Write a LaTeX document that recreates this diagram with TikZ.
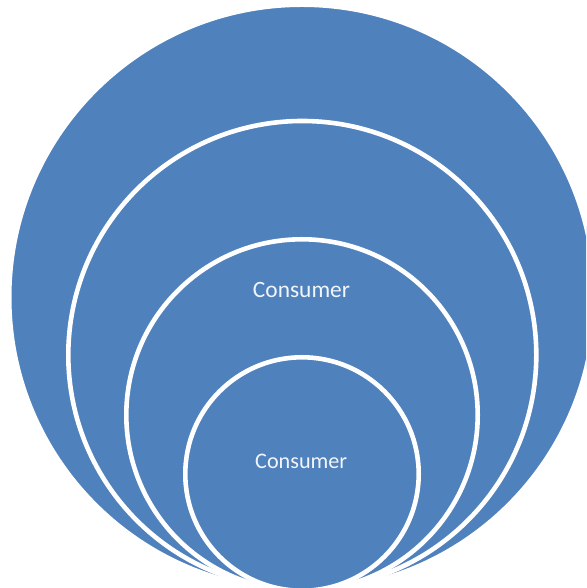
\documentclass[tikz,border=0pt]{standalone}
\usepackage{fontspec}
\setmainfont{Carlito}
\definecolor{ringblue}{HTML}{4F81BD}
\definecolor{ringtext}{HTML}{F2F5FA}
\tikzset{
  ring/.style={circle, draw=white, line width=4.6pt, fill=ringblue, inner sep=0pt, outer sep=0pt},
  lbl/.style={text=ringtext, anchor=base, inner sep=0pt}
}
\begin{document}
\begin{tikzpicture}[x=1pt,y=1pt]
\useasboundingbox (0,0) rectangle (586,588);
\clip (0,0) rectangle (586,588);
\node[ring, minimum size=585.6pt] (c1) at (302,290.5) {};
\node[ring, minimum size=468pt] (c2) at (302.3,233) {};
\node[ring, minimum size=351.4pt] (c3) at (302,173) {};
\node[ring, minimum size=233.4pt] (c4) at (302,114) {};
\node[lbl, font=\fontsize{23.4}{28}\selectfont] (t3) at (301.5,290.3) {Consumer};
\node[lbl, font=\fontsize{22.2}{26}\selectfont] (t4) at (301.2,119.7) {Consumer};
\end{tikzpicture}
\end{document}
